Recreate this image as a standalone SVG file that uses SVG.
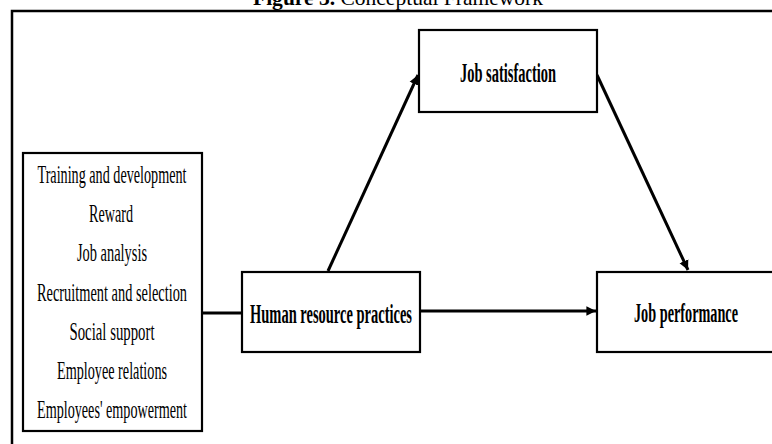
<svg xmlns="http://www.w3.org/2000/svg" width="772" height="444" viewBox="0 0 772 444">
<style>
.box{fill:#fff;stroke:#000;stroke-width:2.2}
.t{font-family:"Liberation Serif","Times New Roman",serif;fill:#000;text-anchor:middle}
.lst{font-size:26px}
.b{font-size:27px;font-weight:bold}
.ln{stroke:#000;stroke-width:3;fill:none}
</style>
<defs>
<marker id="ah" viewBox="0 0 10 10" refX="10" refY="5" markerWidth="3.2" markerHeight="4.2" orient="auto" markerUnits="strokeWidth">
<path d="M0,0 L10,5 L0,10 z" fill="#000"/>
</marker>
</defs>
<rect width="772" height="444" fill="#fff"/>
<text class="t" x="398" y="4.5" font-size="22" textLength="290" lengthAdjust="spacingAndGlyphs"><tspan font-weight="bold">Figure 3.</tspan> Conceptual Framework</text>
<path d="M12,444 V11 H772" fill="none" stroke="#000" stroke-width="2.5"/>
<g id="connectors">
<line class="ln" x1="202" y1="313" x2="242" y2="313"/>
<line class="ln" x1="420" y1="311" x2="596" y2="311" marker-end="url(#ah)"/>
<line class="ln" x1="328" y1="271" x2="418" y2="75" marker-end="url(#ah)"/>
<line class="ln" x1="597" y1="75" x2="688" y2="270" marker-end="url(#ah)"/>
</g>
<g id="hr-dimensions">
<rect class="box" x="23" y="153" width="179" height="278"/>
<text class="t lst" x="112" y="183" textLength="149" lengthAdjust="spacingAndGlyphs">Training and development</text>
<text class="t lst" x="111" y="222" textLength="44" lengthAdjust="spacingAndGlyphs">Reward</text>
<text class="t lst" x="112" y="261" textLength="70" lengthAdjust="spacingAndGlyphs">Job analysis</text>
<text class="t lst" x="112" y="301" textLength="150" lengthAdjust="spacingAndGlyphs">Recruitment and selection</text>
<text class="t lst" x="112" y="340" textLength="85" lengthAdjust="spacingAndGlyphs">Social support</text>
<text class="t lst" x="112" y="379" textLength="110" lengthAdjust="spacingAndGlyphs">Employee relations</text>
<text class="t lst" x="112" y="418" textLength="150" lengthAdjust="spacingAndGlyphs">Employees' empowerment</text>
</g>
<g id="hr-practices">
<rect class="box" x="242" y="272" width="178" height="80"/>
<text class="t b" x="331" y="323" textLength="162" lengthAdjust="spacingAndGlyphs">Human resource practices</text>
</g>
<g id="job-satisfaction">
<rect class="box" x="419" y="30" width="178" height="82"/>
<text class="t b" x="508" y="82" textLength="96" lengthAdjust="spacingAndGlyphs">Job satisfaction</text>
</g>
<g id="job-performance">
<rect class="box" x="597" y="272" width="185" height="80"/>
<text class="t b" x="686" y="322" textLength="104" lengthAdjust="spacingAndGlyphs">Job performance</text>
</g>
</svg>
